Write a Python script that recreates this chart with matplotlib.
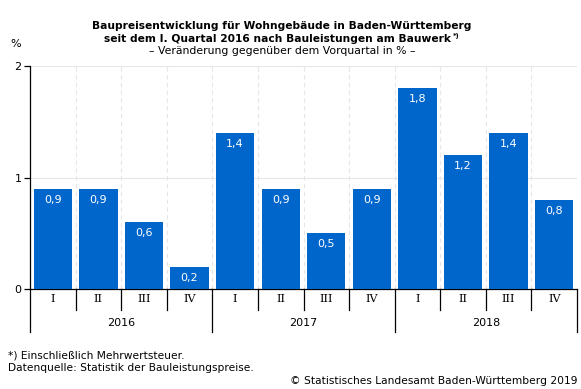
import matplotlib
matplotlib.use("Agg")
import matplotlib.pyplot as plt
from matplotlib.transforms import blended_transform_factory

quarters = ["I", "II", "III", "IV"] * 3
years = ["2016", "2017", "2018"]
values = [0.9, 0.9, 0.6, 0.2, 1.4, 0.9, 0.5, 0.9, 1.8, 1.2, 1.4, 0.8]
labels = ["0,9", "0,9", "0,6", "0,2", "1,4", "0,9", "0,5", "0,9", "1,8", "1,2", "1,4", "0,8"]

W, H = 581, 389
plt.rcParams['font.family'] = ['DejaVu Sans']
fig = plt.figure(figsize=(W / 100, H / 100), dpi=100)
ax_l, ax_r, ax_t, ax_b = 30, 577, 66, 289
ax = fig.add_axes([ax_l / W, (H - ax_b) / H, (ax_r - ax_l) / W, (ax_b - ax_t) / H])

n = len(values)
x = list(range(n))
color = "#0066cc"
ax.bar(x, values, width=0.84, color=color, zorder=3)
ax.set_xlim(-0.5, n - 0.5)
ax.set_ylim(0, 2)

for xi, v, lab in zip(x, values, labels):
    ax.text(xi, v - 0.055, lab, ha="center", va="top", color="white", fontsize=8, zorder=4)

# grid
for yv in [1, 2]:
    ax.axhline(yv, color="#e6e6e6", lw=0.8, zorder=1)
for b in range(1, n):
    ax.axvline(b - 0.5, color="#e6e6e6", lw=0.8, ls=(0, (4, 3)), zorder=1)

for s in ["top", "right"]:
    ax.spines[s].set_visible(False)
ax.spines["left"].set_linewidth(0.9)
ax.spines["bottom"].set_linewidth(0.9)
ax.set_yticks([0, 1, 2])
ax.set_yticklabels(["0", "1", "2"])
ax.tick_params(axis="y", length=4, width=0.9, labelsize=8, pad=2)
ax.set_xticks([])

tr = blended_transform_factory(ax.transData, ax.transAxes)
hpx = ax_b - ax_t
q_end = -(310 - ax_b) / hpx
y_end = -(332 - ax_b) / hpx
ax.plot([-0.5, -0.5], [0, y_end], transform=tr, color="black", lw=0.9, clip_on=False)
for b in range(1, n + 1):
    yb = y_end if b % 4 == 0 else q_end
    ax.plot([b - 0.5, b - 0.5], [0, yb], transform=tr, color="black", lw=0.9, clip_on=False)
for xi, q in zip(x, quarters):
    ax.text(xi, -(299 - ax_b) / hpx, q, transform=tr, ha="center", va="center", fontsize=8,
            family="DejaVu Serif")
for i, yr in enumerate(years):
    ax.text(4 * i + 1.5, -(323 - ax_b) / hpx, yr, transform=tr, ha="center", va="center", fontsize=8)

# titles
cx = 282 / W
fig.text(cx, 1 - 26 / H, "Baupreisentwicklung für Wohngebäude in Baden-Württemberg",
         ha="center", va="center", fontsize=7.7, fontweight="bold")
t2 = fig.text(cx - 4 / W, 1 - 39 / H, "seit dem I. Quartal 2016 nach Bauleistungen am Bauwerk",
              ha="center", va="center", fontsize=7.7, fontweight="bold")
fig.canvas.draw()
bb = t2.get_window_extent()
fig.text((bb.x1 + 1) / W, 1 - 36 / H, "*)", ha="left", va="center", fontsize=5, fontweight="bold")
fig.text(cx, 1 - 51 / H, "– Veränderung gegenüber dem Vorquartal in % –",
         ha="center", va="center", fontsize=7.8)
fig.text(10 / W, 1 - 44 / H, "%", ha="left", va="center", fontsize=8)

fig.text(8 / W, 1 - 356 / H, "*) Einschließlich Mehrwertsteuer.", ha="left", va="center", fontsize=7.7)
fig.text(8 / W, 1 - 368 / H, "Datenquelle: Statistik der Bauleistungspreise.", ha="left", va="center", fontsize=7.7)
fig.text(577 / W, 1 - 381 / H, "© Statistisches Landesamt Baden-Württemberg 2019", ha="right", va="center", fontsize=7.7)

fig.savefig("out.png", dpi=100)
